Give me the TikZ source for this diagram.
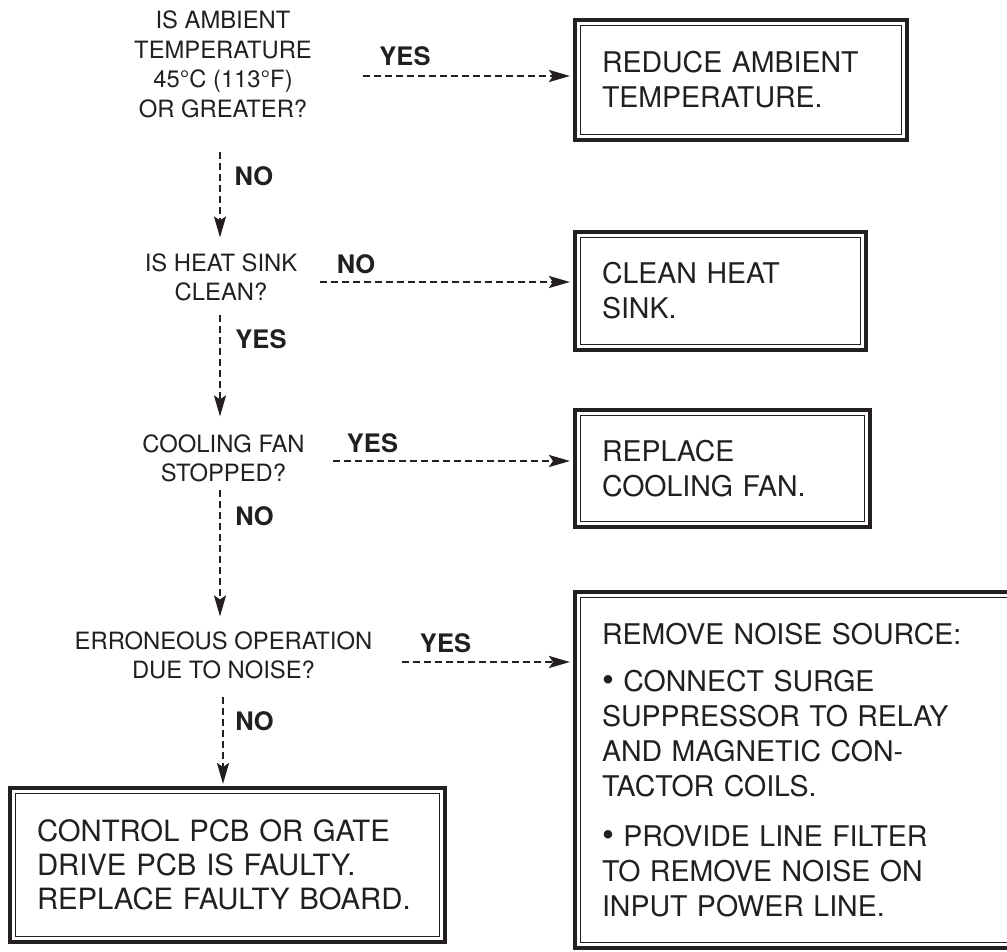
\documentclass[tikz,border=0pt]{standalone}
\usepackage{fontspec}
\setmainfont{TeX Gyre Heros}
\usetikzlibrary{arrows.meta}
\definecolor{ink}{RGB}{35,31,32}
\begin{document}
\begin{tikzpicture}[x=1pt,y=-1pt,
  qtext/.style={inner sep=0pt, align=center, text=ink, font=\fontsize{23.8}{29.5}\selectfont},
  lbl/.style={inner sep=0pt, text=ink, font=\fontsize{25.5}{30}\selectfont\bfseries},
  dbox/.style={draw=ink, line width=4pt, rectangle, outer sep=0pt, inner xsep=27pt, inner ysep=0pt,
    align=left, text=ink, font=\fontsize{28.5}{35}\selectfont},
  flow/.style={draw=ink, line width=2.3pt, dash pattern=on 7pt off 4pt,
    -{Stealth[length=21pt,width=12pt,inset=4pt]}},
  innerline/.style={draw=ink, line width=1.3pt}]
\useasboundingbox (0,0) rectangle (1007,952);
\clip (0,0) rectangle (1007,952);

% questions
\node[qtext] (q1) at (223,64.5) {IS AMBIENT\\TEMPERATURE\\45°C (113°F)\\OR GREATER?};
\node[qtext] (q2) at (221,277.5) {IS HEAT SINK\\CLEAN?};
\node[qtext] (q3) at (223.5,458.5) {COOLING FAN\\STOPPED?};
\node[qtext] (q4) at (223.5,655.5) {ERRONEOUS OPERATION\\DUE TO NOISE?};

% boxes
\node[dbox, text width=278pt, minimum height=120pt] (b1) at (741,80) {REDUCE AMBIENT\\TEMPERATURE.};
\node[dbox, text width=237pt, minimum height=118pt] (b2) at (720.5,291) {CLEAN HEAT\\SINK.};
\node[dbox, text width=241pt, minimum height=117pt] (b3) at (722.5,468.5) {REPLACE\\COOLING FAN.};
\node[dbox, text width=402pt, minimum height=356pt] (b4) at (803,770)
  {REMOVE NOISE SOURCE:\\[12pt]
   {\fontsize{34}{35}\selectfont\raisebox{-0.5pt}{•}} CONNECT SURGE\\SUPPRESSOR TO RELAY\\AND MAGNETIC CON-\\TACTOR COILS.\\[15pt]
   {\fontsize{34}{35}\selectfont\raisebox{-0.5pt}{•}} PROVIDE LINE FILTER\\TO REMOVE NOISE ON\\INPUT POWER LINE.};
\node[dbox, text width=381pt, minimum height=154pt, font=\fontsize{29.3}{34}\selectfont] (b5) at (227.5,865)
  {CONTROL PCB OR GATE\\DRIVE PCB IS FAULTY.\\REPLACE FAULTY BOARD.};

\foreach \n in {b1,b2,b3,b4,b5}
  \draw[innerline] ([xshift=5.3pt,yshift=-5.3pt]\n.north west) rectangle ([xshift=-5.3pt,yshift=5.3pt]\n.south east);

% labels
\node[lbl] (l1) at (405,56) {YES};
\node[lbl] (l2) at (254,176.5) {NO};
\node[lbl] (l3) at (356,264) {NO};
\node[lbl] (l4) at (261,339) {YES};
\node[lbl] (l5) at (372.5,443.5) {YES};
\node[lbl] (l6) at (254.5,516.5) {NO};
\node[lbl] (l7) at (445.5,643.5) {YES};
\node[lbl] (l8) at (254.5,721) {NO};

% connector start points
\coordinate (a1s) at (363,76);
\coordinate (a2s) at (320,282);
\coordinate (a3s) at (333,461);
\coordinate (a4s) at (402,662);
\coordinate (v1s) at (220,152);
\coordinate (v2s) at (220,315);
\coordinate (v3s) at (220,490);
\coordinate (v4s) at (223,697);

\draw[flow, shorten >=5pt] (a1s) -- (a1s -| b1.west);
\draw[flow, shorten >=5pt] (a2s) -- (a2s -| b2.west);
\draw[flow, shorten >=5pt] (a3s) -- (a3s -| b3.west);
\draw[flow, shorten >=5pt] (a4s) -- (a4s -| b4.west);
\draw[flow, shorten >=16pt] (v1s) -- (v1s |- q2.north);
\draw[flow, shorten >=18pt] (v2s) -- (v2s |- q3.north);
\draw[flow, shorten >=15pt] (v3s) -- (v3s |- q4.north);
\draw[flow, shorten >=4pt] (v4s) -- (v4s |- b5.north);
\end{tikzpicture}
\end{document}
